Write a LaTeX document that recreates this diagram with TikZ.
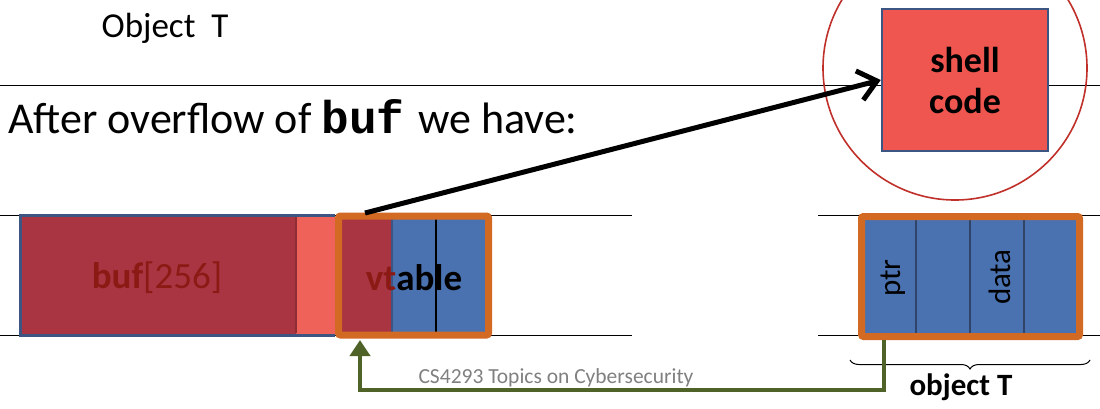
\documentclass[tikz,border=0pt]{standalone}
\usepackage{fontspec}
\setmainfont{Carlito}
\newfontfamily\monofont{Liberation Mono}
\usetikzlibrary{arrows.meta,decorations.pathreplacing}
\definecolor{bufred}{HTML}{A83541}
\definecolor{lightred}{HTML}{EF625A}
\definecolor{memblue}{HTML}{4A72B0}
\definecolor{edgeblue}{HTML}{3C5583}
\definecolor{objorange}{HTML}{D36A24}
\definecolor{txtred}{HTML}{8C1A14}
\definecolor{arrgreen}{HTML}{4F6228}
\definecolor{circred}{HTML}{C0302A}
\definecolor{shellred}{HTML}{EE564F}
\tikzset{
  memline/.style={line width=1pt,black},
  cell/.style={draw=none,inner sep=0pt},
  orangebox/.style={draw=objorange,line width=7pt,rounded corners=2pt},
  divider/.style={line width=1.6pt,edgeblue!80!black},
}
\begin{document}
\begin{tikzpicture}[x=1pt,y=-1pt]
\useasboundingbox (0,0) rectangle (1100,408);
% separator lines
\draw[memline] (0,85) -- (1100,85);
\draw[memline] (0,215) -- (632,215);
\draw[memline] (0,335) -- (632,335);
\draw[memline] (818,215) -- (1100,215);
\draw[memline] (818,335) -- (1100,335);
% circle
\node[draw=circred,line width=1.6pt,circle,minimum size=264pt,inner sep=0pt] (circ) at (955,68) {};
% shell code
\node[draw=edgeblue,line width=2.5pt,fill=shellred,minimum width=166pt,minimum height=142pt,inner sep=0pt,align=center,font=\fontsize{36}{41}\selectfont\bfseries] (shell) at (965,80) {shell\\code};
% texts
\node[font=\fontsize{35}{40}\selectfont] (title) at (165,28) {Object\ \ T};
\node[font=\fontsize{44}{52}\selectfont,anchor=base west,inner sep=0pt] (after) at (8,133) {After overflow of {\monofont\bfseries\fontsize{46}{52}\selectfont buf}\hspace{4pt} we have:};
% buf region
\fill[bufred] (20,215) rectangle (296,335);
\fill[lightred] (296,215) rectangle (335,335);
\draw[edgeblue,line width=3pt] (335,215) -- (20,215) -- (20,335) -- (335,335);
\draw[bufred!85!black,line width=1.5pt] (296,217) -- (296,333);
\node[cell,text=txtred,font=\fontsize{37}{42}\selectfont] (buf) at (157,278) {\textbf{buf}[256]};
% vtable object
\fill[bufred] (338,216) rectangle (392,334);
\fill[memblue] (392,216) rectangle (489,334);
\draw[edgeblue,line width=2pt] (392,216) -- (392,334);
\draw[black,line width=1.2pt] (436,216) -- (436,334);
\node[orangebox,minimum width=150pt,minimum height=119pt,inner sep=0pt] (vtbox) at (413.5,275.5) {};
\node[cell,font=\fontsize{37}{42}\selectfont\bfseries] (vt) at (414,278) {\textcolor{txtred}{vt}able};
% object T
\fill[memblue] (862,216) rectangle (1080,336);
\foreach \x in {916,970,1024} \draw[divider] (\x,218) -- (\x,334);
\node[orangebox,minimum width=218pt,minimum height=120pt,inner sep=0pt] (objbox) at (970.5,276.5) {};
\node[cell,rotate=90,font=\fontsize{31}{36}\selectfont] (ptr) at (893,278) {ptr};
\node[cell,rotate=90,font=\fontsize{31}{36}\selectfont] (data) at (1000,277) {data};
% brace
\coordinate (bl) at (850,360);
\coordinate (br) at (1090,360);
\draw[line width=1pt,decorate,decoration={brace,amplitude=9pt,mirror}] (bl) -- (br);
\node[font=\fontsize{31}{36}\selectfont\bfseries] (objT) at (961,387) {object T};
% footer
\node[text=gray,font=\fontsize{21.5}{24}\selectfont] (footer) at (556,378) {CS4293 Topics on Cybersecurity};
% black arrow
\coordinate (vtstart) at (365,213);
\draw[line width=5pt,-{Straight Barb[length=18pt,width=30pt,line width=5pt]}] (vtstart) -- (shell.west |- 0,80);
% green arrow
\coordinate (ptrsrc) at (884,340);
\coordinate (vttarget) at (360,340);
\draw[arrgreen,line width=4pt,-{Triangle[length=16pt,width=20pt]}] (ptrsrc) -- (884,390) -- (360,390) -- (vttarget);
\end{tikzpicture}
\end{document}
